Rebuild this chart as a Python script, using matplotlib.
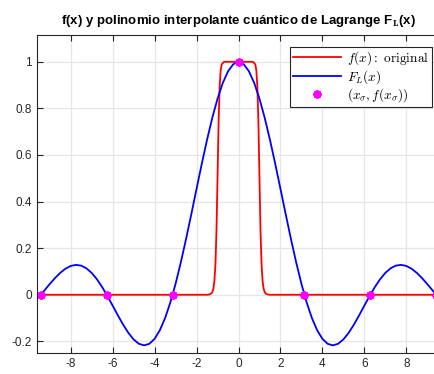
import numpy as np
import matplotlib
matplotlib.use("Agg")
import matplotlib.pyplot as plt

plt.rcParams["font.family"] = ["Liberation Sans", "DejaVu Sans"]
plt.rcParams["mathtext.fontset"] = "cm"
plt.rcParams["axes.unicode_minus"] = False

# f(x): flat top function
x_f = [-9.42, -1.5, -1.4, -1.3, -1.25, -1.2, -1.15, -1.1, -1.05, -1.0, -0.95, -0.9,
       -0.85, -0.8, -0.7, -0.6, 0.0, 0.6, 0.7, 0.8, 0.85, 0.9, 0.95, 1.0, 1.05, 1.1,
       1.15, 1.2, 1.25, 1.3, 1.4, 1.5, 9.42]
y_f = [0.0, 0.0, 0.001, 0.005, 0.011, 0.025, 0.058, 0.129, 0.274, 0.5, 0.736, 0.892,
       0.963, 0.989, 0.999, 1.0, 1.0, 1.0, 0.999, 0.989, 0.963, 0.892, 0.736, 0.5, 0.274,
       0.129, 0.058, 0.025, 0.011, 0.005, 0.001, 0.0, 0.0]

# F_L(x): interpolant
x_L = [-9.42, -9.25, -9.0, -8.75, -8.5, -8.25, -8.0, -7.75, -7.5, -7.25, -7.0, -6.75,
       -6.5, -6.25, -6.0, -5.75, -5.5, -5.25, -5.0, -4.75, -4.5, -4.25, -4.0, -3.75,
       -3.5, -3.25, -3.0, -2.75, -2.5, -2.25, -2.0, -1.75, -1.5, -1.25, -1.0, -0.75,
       -0.5, -0.25, 0.0, 0.25, 0.5, 0.75, 1.0, 1.25, 1.5, 1.75, 2.0, 2.25, 2.5, 2.75,
       3.0, 3.25, 3.5, 3.75, 4.0, 4.25, 4.5, 4.75, 5.0, 5.25, 5.5, 5.75, 6.0, 6.25,
       6.5, 6.75, 7.0, 7.25, 7.5, 7.75, 8.0, 8.25, 8.5, 8.75, 9.0, 9.25, 9.42]
y_L = [0.0005, 0.0188, 0.0458, 0.0714, 0.0939, 0.1119, 0.1237, 0.1283, 0.1251, 0.1135,
       0.0939, 0.0667, 0.0331, -0.0053, -0.0466, -0.0884, -0.1283, -0.1636, -0.1918,
       -0.2104, -0.2172, -0.2106, -0.1892, -0.1524, -0.1002, -0.0333, 0.0470, 0.1388,
       0.2394, 0.3458, 0.4546, 0.5623, 0.6650, 0.7592, 0.8415, 0.9089, 0.9589, 0.9896,
       1.0, 0.9896, 0.9589, 0.9089, 0.8415, 0.7592, 0.6650, 0.5623, 0.4546, 0.3458,
       0.2394, 0.1388, 0.0470, -0.0333, -0.1002, -0.1524, -0.1892, -0.2106, -0.2172,
       -0.2104, -0.1918, -0.1636, -0.1283, -0.0884, -0.0466, -0.0053, 0.0331, 0.0667,
       0.0939, 0.1135, 0.1251, 0.1283, 0.1237, 0.1119, 0.0939, 0.0714, 0.0458, 0.0188,
       0.0005]

# nodes (x_sigma, f(x_sigma))
x_nodes = [-9.42, -6.28, -3.14, 0.0, 3.14, 6.28, 9.42]
y_nodes = [0, 0, 0, 1, 0, 0, 0]

x_ticks = [-8, -6, -4, -2, 0, 2, 4, 6, 8]
y_ticks = [-0.2, 0, 0.2, 0.4, 0.6, 0.8, 1]

fig = plt.figure(figsize=(4.34, 3.74), dpi=100)
ax = fig.add_axes([36.7 / 434, 21 / 374, 403.6 / 434, 318 / 374])

ax.plot(x_f, y_f, color="red", lw=1.3, label=r"$f(x)\mathrm{:\ original}$")
ax.plot(x_L, y_L, color="blue", lw=1.3, label=r"$F_L(x)$")
ax.plot(x_nodes, y_nodes, ls="none", marker=(8, 2, 0), ms=6, mew=1.5,
        color="magenta", label=r"$(x_\sigma, f(x_\sigma))$", clip_on=False)

ax.set_xlim(-9.62, 9.62)
ax.set_ylim(-0.25, 1.115)
ax.set_xticks(x_ticks)
ax.set_yticks(y_ticks)
ax.set_yticklabels(["-0.2", "0", "0.2", "0.4", "0.6", "0.8", "1"])
ax.grid(True, color="#e6e6e6", lw=0.9)
ax.set_axisbelow(True)
ax.tick_params(direction="in", length=4, width=0.8, colors="#262626",
               labelsize=8.5, top=True, right=True)
for s in ax.spines.values():
    s.set_color("#262626")
    s.set_linewidth(0.8)

ax.set_title(r"f(x) y polinomio interpolante cuántico de Lagrange F$_\mathbf{L}$(x)",
             fontsize=9.5, fontweight="bold", pad=8)

leg = ax.legend(loc="upper right", bbox_to_anchor=(432 / 434, 1 - 47 / 374),
                bbox_transform=fig.transFigure, borderaxespad=0, fontsize=9.6,
                handlelength=3.6, fancybox=False, framealpha=1, edgecolor="#262626",
                borderpad=0.2, labelspacing=0.05, handletextpad=0.5)
leg.get_frame().set_linewidth(0.8)

fig.savefig("out.png", dpi=100)
